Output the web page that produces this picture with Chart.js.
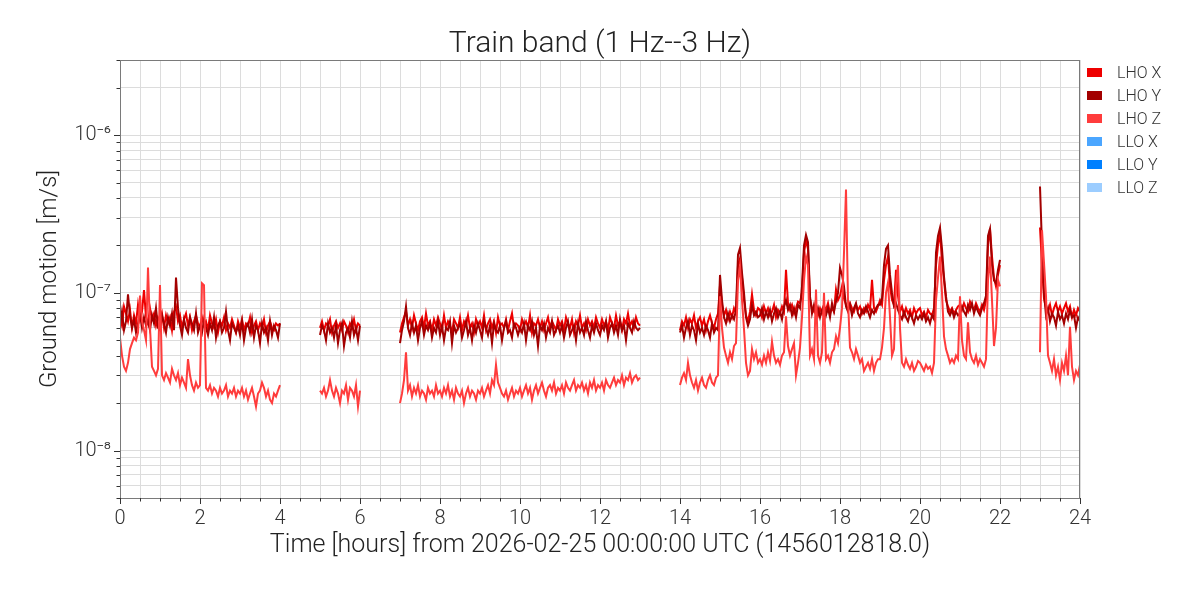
<!DOCTYPE html>
<html>
<head>
<meta charset="utf-8">
<title>Train band (1 Hz--3 Hz)</title>
<script src="https://cdn.jsdelivr.net/npm/chart.js@4.4.1/dist/chart.umd.min.js"></script>
<style>
  body { margin: 0; background: #fff; }
  #wrap { position: relative; width: 1200px; height: 600px; font-family: Roboto, "DejaVu Sans", sans-serif; font-weight: 300; }
  #title { position: absolute; left: 120px; width: 960px; top: 22px; line-height: 40px; text-align: center; font-size: 30px; color: #222; }
  #legend { position: absolute; left: 1087px; top: 61px; }
  .item { display: flex; align-items: center; height: 23px; font-size: 16px; color: #333; }
  .box { width: 15px; height: 9px; margin-right: 15px; }
</style>
</head>
<body>
<div id="wrap">
  <canvas id="chart" width="1200" height="600"></canvas>
  <div id="title">Train band (1 Hz--3 Hz)</div>
  <div id="legend"></div>
</div>
<script>
// Series names and colours (LLO channels have no data in this band)
const seriesNames = ["LHO X", "LHO Y", "LHO Z", "LLO X", "LLO Y", "LLO Z"];
const seriesColors = ["#ee0000", "#a30000", "#ff3c3c", "#4ba6ff", "#0080ff", "#9ccdff"];

// Data segments: start time [hours], one sample every 0.05 h, values in nm/s
// (one row = one hour)
const segStarts = [0, 5, 7, 14, 23];
const sampleStep = 0.05;

const lhoX = [
  [70, 62, 82, 74, 66, 78, 60, 72, 64, 84, 68, 76, 104, 70, 64, 80, 68, 74, 62, 70,
   66, 74, 60, 72, 64, 70, 58, 76, 82, 66, 72, 60, 68, 74, 62, 70, 58, 66, 72, 64,
   60, 70, 62, 66, 58, 72, 64, 60, 68, 56, 66, 62, 70, 58, 64, 60, 68, 62, 56, 66,
   60, 68, 58, 64, 62, 70, 56, 62, 66, 58, 64, 60, 68, 56, 62, 66, 60, 58, 64, 62,
   64],
  [60, 66, 58, 64, 62, 68, 56, 62, 66, 60, 64, 58, 66, 62, 56, 64, 60, 68, 58, 64,
   62],
  [56, 64, 70, 76, 62, 68, 60, 72, 64, 58, 66, 70, 60, 74, 62, 66, 58, 68, 62, 70,
   64, 58, 72, 60, 66, 62, 56, 68, 64, 60, 70, 58, 66, 62, 72, 60, 64, 56, 68, 62,
   66, 60, 72, 58, 64, 68, 60, 66, 56, 70, 62, 64, 60, 68, 58, 66, 74, 60, 64, 62,
   58, 68, 62, 66, 60, 72, 56, 64, 62, 68, 60, 66, 58, 64, 70, 60, 66, 62, 58, 68,
   62, 66, 58, 70, 64, 60, 68, 56, 66, 62, 72, 60, 64, 58, 68, 62, 66, 60, 70, 64,
   60, 68, 62, 66, 58, 70, 64, 60, 72, 62, 66, 58, 68, 64, 74, 62, 66, 60, 70, 64,
   62],
  [58, 66, 62, 70, 60, 68, 64, 72, 60, 66, 70, 62, 68, 58, 66, 72, 64, 60, 68, 74,
   112, 84, 72, 78, 68, 76, 70, 80, 74, 150, 165, 125, 90, 72, 66, 76, 98, 78, 72, 80,
   78, 70, 82, 74, 80, 72, 76, 84, 70, 78, 74, 82, 76, 140, 86, 78, 84, 74, 80, 88,
   86, 100, 180, 215, 190, 92, 80, 76, 84, 72, 80, 74, 82, 78, 86, 74, 80, 76, 105, 90,
   96, 110, 92, 84, 78, 86, 80, 76, 84, 78, 82, 74, 80, 76, 84, 78, 121, 80, 76, 82,
   90, 84, 120, 150, 170, 110, 90, 84, 140, 96, 76, 82, 72, 80, 74, 78, 70, 80, 74, 78,
   80, 72, 76, 70, 78, 74, 72, 80, 150, 200, 240, 160, 120, 90, 82, 76, 80, 74, 78, 82,
   84, 78, 86, 80, 76, 88, 82, 78, 86, 80, 76, 84, 78, 90, 200, 255, 170, 125, 110, 130,
   150],
  [260, 150, 92, 80, 76, 84, 72, 80, 86, 76, 82, 74, 80, 86, 76, 82, 70, 78, 72, 80,
   76]
];

const lhoY = [
  [62, 76, 58, 66, 98, 72, 60, 68, 56, 64, 74, 60, 70, 62, 66, 58, 72, 64, 80, 60,
   58, 72, 64, 56, 70, 62, 74, 58, 125, 80, 62, 54, 68, 60, 56, 70, 64, 58, 74, 56,
   62, 56, 68, 60, 54, 64, 58, 70, 52, 62, 66, 56, 60, 76, 58, 50, 64, 60, 56, 62,
   54, 66, 50, 60, 64, 56, 68, 52, 62, 58, 48, 64, 56, 60, 50, 66, 54, 62, 58, 52,
   64],
  [54, 62, 58, 50, 64, 56, 60, 52, 62, 48, 58, 64, 46, 56, 60, 52, 66, 54, 60, 50,
   62],
  [48, 58, 66, 82, 60, 54, 64, 56, 62, 50, 60, 66, 54, 62, 58, 64, 52, 60, 56, 66,
   54, 62, 50, 60, 58, 66, 48, 62, 56, 60, 64, 52, 58, 66, 54, 60, 50, 62, 56, 64,
   58, 52, 66, 60, 54, 62, 48, 64, 58, 56, 62, 50, 60, 66, 56, 58, 52, 64, 60, 54,
   60, 56, 64, 50, 62, 58, 66, 54, 60, 46, 62, 58, 64, 52, 60, 56, 66, 54, 58, 62,
   56, 62, 52, 60, 66, 54, 58, 62, 50, 64, 56, 60, 54, 66, 58, 52, 62, 56, 64, 58,
   54, 62, 58, 66, 52, 60, 64, 56, 62, 54, 68, 58, 62, 50, 64, 60, 56, 66, 60, 58,
   60],
  [56, 62, 52, 60, 66, 54, 62, 58, 50, 64, 56, 60, 54, 62, 58, 52, 64, 56, 60, 58,
   130, 90, 70, 64, 74, 66, 72, 68, 78, 175, 193, 134, 100, 70, 62, 68, 84, 72, 76, 70,
   72, 80, 68, 76, 70, 78, 66, 74, 80, 70, 76, 68, 82, 90, 78, 84, 72, 80, 70, 84,
   80, 110, 200, 233, 210, 95, 74, 84, 72, 80, 70, 78, 84, 72, 80, 70, 86, 76, 88, 100,
   144, 130, 110, 82, 76, 84, 72, 80, 86, 74, 70, 78, 74, 82, 76, 70, 78, 74, 80, 84,
   84, 92, 150, 190, 200, 130, 100, 82, 86, 78, 72, 68, 76, 70, 66, 74, 70, 64, 72, 68,
   72, 68, 74, 66, 70, 64, 72, 68, 180, 230, 259, 190, 127, 95, 76, 72, 78, 70, 76, 72,
   74, 82, 76, 72, 84, 78, 86, 74, 82, 76, 72, 80, 86, 96, 230, 255, 150, 120, 115, 140,
   162],
  [473, 200, 100, 72, 80, 66, 74, 70, 62, 76, 68, 72, 64, 74, 68, 78, 70, 72, 60, 70,
   66]
];

const lhoZ = [
  [52, 40, 34, 32, 36, 44, 48, 52, 50, 56, 96, 66, 58, 50, 145, 60, 34, 32, 30, 33,
   112, 30, 28, 31, 29, 27, 33, 30, 28, 31, 26, 29, 27, 25, 38, 30, 26, 24, 27, 25,
   26, 115, 112, 25, 24, 26, 23, 25, 24, 22, 25, 23, 24, 26, 22, 24, 23, 25, 22, 24,
   23, 25, 22, 24, 21, 23, 25, 22, 19, 23, 24, 27, 25, 22, 24, 21, 20, 23, 22, 24,
   26],
  [24, 23, 25, 22, 24, 28, 24, 22, 25, 23, 20, 24, 23, 26, 21, 25, 24, 22, 26, 19,
   24],
  [20, 23, 28, 42, 24, 26, 22, 25, 23, 26, 22, 24, 23, 21, 25, 23, 24, 22, 26, 23,
   24, 22, 25, 23, 26, 22, 24, 21, 25, 23, 22, 24, 20, 23, 25, 22, 24, 23, 21, 24,
   23, 25, 22, 24, 26, 23, 28, 26, 35, 27, 25, 23, 22, 24, 21, 23, 25, 22, 24, 23,
   25, 22, 24, 26, 23, 25, 21, 24, 26, 23, 25, 27, 24, 22, 25, 26, 24, 27, 23, 25,
   24, 26, 23, 27, 25, 24, 26, 28, 24, 26, 25, 27, 24, 26, 23, 27, 25, 28, 24, 26,
   25, 27, 24, 28, 26, 25, 27, 29, 26, 28, 27, 30, 26, 29, 28, 31, 27, 29, 30, 28,
   29],
  [26, 29, 31, 28, 36, 30, 27, 25, 28, 24, 27, 29, 26, 25, 28, 30, 27, 26, 29, 30,
   95, 60, 45, 40, 36, 42, 38, 46, 48, 120, 147, 90, 59, 36, 30, 32, 44, 38, 42, 36,
   38, 35, 40, 36, 42, 37, 49, 40, 36, 38, 35, 40, 42, 71, 46, 40, 44, 48, 30, 36,
   45, 70, 120, 170, 150, 40, 44, 38, 105, 40, 36, 42, 100, 38, 40, 36, 42, 44, 53, 48,
   60, 80, 180, 452, 90, 45, 42, 38, 44, 40, 36, 38, 32, 34, 36, 33, 38, 32, 36, 38,
   38, 45, 60, 100, 116, 70, 40, 44, 110, 150, 60, 36, 34, 38, 35, 33, 36, 32, 34, 37,
   36, 34, 32, 35, 33, 34, 31, 36, 90, 125, 170, 100, 53, 44, 40, 36, 38, 36, 40, 38,
   95, 50, 40, 38, 65, 42, 38, 36, 40, 35, 38, 36, 34, 38, 120, 170, 90, 46, 60, 121,
   110],
  [42, 250, 155, 95, 40, 36, 32, 38, 30, 34, 28, 36, 32, 40, 30, 61, 34, 28, 32, 30,
   35]
];

// Axis ticks
const xMajor = [0, 2, 4, 6, 8, 10, 12, 14, 16, 18, 20, 22, 24];
const xMinorStep = 0.5;
const yMajor = [1e-8, 1e-7, 1e-6];
const yMajorLabels = ["10\u207B\u2078", "10\u207B\u2077", "10\u207B\u2076"];
const yTickValues = [
  5e-9, 6e-9, 7e-9, 8e-9, 9e-9,
  1e-8, 2e-8, 3e-8, 4e-8, 5e-8, 6e-8, 7e-8, 8e-8, 9e-8,
  1e-7, 2e-7, 3e-7, 4e-7, 5e-7, 6e-7, 7e-7, 8e-7, 9e-7,
  1e-6, 2e-6, 3e-6
];

const FONT = "Roboto, 'DejaVu Sans', sans-serif";

// Turn segments into {x, y} points with a null between segments
function buildPoints(segs) {
  const pts = [];
  segs.forEach((vals, s) => {
    if (s > 0) pts.push({ x: segStarts[s] - 0.5, y: null });
    vals.forEach((v, i) => pts.push({ x: segStarts[s] + i * sampleStep, y: v * 1e-9 }));
  });
  return pts;
}

function isMajorY(v) {
  return yMajor.findIndex(m => Math.abs(v / m - 1) < 1e-6);
}

// Frame round the plot and tick marks (major longer than minor)
const frameAndTicks = {
  id: "frameAndTicks",
  afterDraw(chart) {
    const { ctx, chartArea: a, scales } = chart;
    ctx.save();
    ctx.strokeStyle = "#7a7a7a";
    ctx.lineWidth = 1;
    ctx.strokeRect(a.left + 0.5, a.top + 0.5, a.right - a.left - 1, a.bottom - a.top);
    ctx.strokeStyle = "#333";
    ctx.beginPath();
    scales.x.ticks.forEach(t => {
      const px = Math.round(scales.x.getPixelForValue(t.value)) + 0.5;
      const len = xMajor.includes(t.value) ? 6 : 3.5;
      ctx.moveTo(px, a.bottom);
      ctx.lineTo(px, a.bottom + len);
    });
    scales.y.ticks.forEach(t => {
      const py = Math.round(scales.y.getPixelForValue(t.value)) + 0.5;
      const len = isMajorY(t.value) >= 0 ? 6 : 3.5;
      ctx.moveTo(a.left, py);
      ctx.lineTo(a.left - len, py);
    });
    ctx.stroke();
    ctx.restore();
  }
};

// HTML legend
const legendEl = document.getElementById("legend");
legendEl.innerHTML = seriesNames.map((n, i) =>
  `<div class="item"><span class="box" style="background:${seriesColors[i]}"></span>${n}</div>`
).join("");

const series = [lhoX, lhoY, lhoZ];
const drawOrder = [2, 1, 0];

new Chart(document.getElementById("chart"), {
  type: "line",
  data: {
    datasets: series.map((segs, i) => ({
      label: seriesNames[i],
      data: buildPoints(segs),
      borderColor: seriesColors[i],
      backgroundColor: seriesColors[i],
      borderWidth: 2,
      pointRadius: 0,
      tension: 0,
      spanGaps: false,
      order: drawOrder[i]
    }))
  },
  options: {
    responsive: false,
    animation: false,
    layout: { padding: { left: 0, right: 120, top: 60, bottom: 0 } },
    plugins: {
      legend: { display: false },
      tooltip: { enabled: false },
      title: { display: false }
    },
    scales: {
      x: {
        type: "linear",
        min: 0,
        max: 24,
        afterBuildTicks: axis => {
          const t = [];
          for (let v = 0; v <= 24; v += xMinorStep) t.push({ value: v });
          axis.ticks = t;
        },
        afterFit: s => { s.height = 102; },
        ticks: {
          autoSkip: false,
          maxRotation: 0,
          padding: 9,
          color: "#333",
          font: { family: FONT, size: 20, weight: 300 },
          callback: v => xMajor.includes(v) ? String(v) : ""
        },
        grid: { color: "#dcdcdc", lineWidth: 1, drawTicks: false },
        border: { display: false },
        title: {
          display: true,
          text: "Time [hours] from 2026-02-25 00:00:00 UTC (1456012818.0)",
          color: "#222",
          font: { family: FONT, size: 25, weight: 300 },
          padding: { top: 0, bottom: 39 }
        }
      },
      y: {
        type: "logarithmic",
        min: 5e-9,
        max: 3e-6,
        afterBuildTicks: axis => {
          axis.ticks = yTickValues.map(v => ({ value: v }));
        },
        afterFit: s => { s.width = 120; },
        ticks: {
          autoSkip: false,
          padding: 9,
          color: "#333",
          font: { family: FONT, size: 20, weight: 300 },
          callback: v => {
            const k = isMajorY(v);
            return k >= 0 ? yMajorLabels[k] : "";
          }
        },
        grid: { color: "#dcdcdc", lineWidth: 1, drawTicks: false },
        border: { display: false },
        title: {
          display: true,
          text: "Ground motion [m/s]",
          color: "#222",
          font: { family: FONT, size: 24, weight: 300 },
          padding: { top: 36, bottom: 0 }
        }
      }
    }
  },
  plugins: [frameAndTicks]
});
</script>
</body>
</html>
